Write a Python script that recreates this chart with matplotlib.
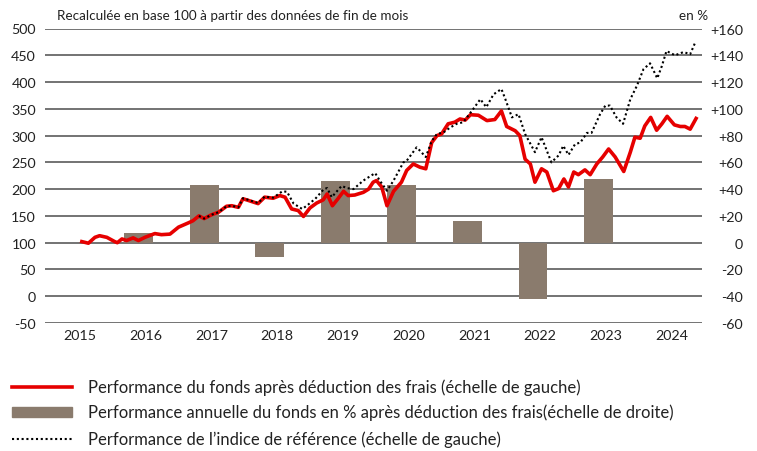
import matplotlib.pyplot as plt
from matplotlib.lines import Line2D
from matplotlib.patches import Rectangle
import numpy as np

plt.rcParams['font.family'] = ['Lato', 'DejaVu Sans']

# Fund performance (base 100), left scale
fund_x = [2015.03, 2015.13, 2015.23, 2015.30, 2015.41, 2015.53, 2015.57, 2015.64, 2015.71,
          2015.81, 2015.89, 2015.99, 2016.14, 2016.24, 2016.37, 2016.50, 2016.65, 2016.72,
          2016.81, 2016.89, 2017.00, 2017.11, 2017.23, 2017.31, 2017.41, 2017.48, 2017.56,
          2017.71, 2017.81, 2017.94, 2018.04, 2018.12, 2018.22, 2018.32, 2018.40, 2018.50,
          2018.60, 2018.70, 2018.76, 2018.84, 2018.93, 2019.01, 2019.08, 2019.18, 2019.31,
          2019.39, 2019.46, 2019.51, 2019.59, 2019.67, 2019.77, 2019.89, 2019.97, 2020.07,
          2020.17, 2020.26, 2020.35, 2020.43, 2020.50, 2020.60, 2020.70, 2020.78, 2020.86,
          2020.94, 2021.06, 2021.19, 2021.31, 2021.41, 2021.49, 2021.62, 2021.69, 2021.77,
          2021.85, 2021.92, 2022.02, 2022.10, 2022.20, 2022.28, 2022.36, 2022.43, 2022.51,
          2022.58, 2022.68, 2022.76, 2022.86, 2022.95, 2023.04, 2023.14, 2023.27, 2023.37,
          2023.44, 2023.52, 2023.59, 2023.68, 2023.77, 2023.85, 2023.93, 2024.04, 2024.13,
          2024.20, 2024.28, 2024.37]
fund_y = [102, 99, 110, 113, 110, 102, 100, 107, 104,
          109, 104, 110, 117, 115, 116, 129, 137, 141,
          150, 145, 152, 157, 168, 169, 166, 182, 179,
          173, 185, 183, 188, 185, 163, 160, 149, 165,
          174, 180, 191, 169, 183, 196, 188, 189, 194,
          200, 213, 216, 204, 169, 196, 213, 235, 247,
          241, 238, 287, 300, 303, 322, 325, 331, 329,
          339, 338, 328, 330, 346, 317, 309, 300, 256,
          247, 213, 238, 232, 197, 201, 219, 204, 232,
          227, 236, 227, 247, 260, 275, 260, 233, 269,
          297, 295, 318, 334, 310, 322, 336, 320, 317,
          317, 312, 332]

# Benchmark index (base 100), left scale
bench_x = [2016.81, 2016.89, 2017.00, 2017.11, 2017.23, 2017.31, 2017.41, 2017.48, 2017.56,
           2017.71, 2017.81, 2017.94, 2018.08, 2018.15, 2018.25, 2018.38, 2018.45, 2018.58,
           2018.71, 2018.76, 2018.83, 2018.98, 2019.06, 2019.16, 2019.31, 2019.49, 2019.56,
           2019.67, 2019.77, 2019.92, 2019.97, 2020.12, 2020.17, 2020.26, 2020.35, 2020.43,
           2020.53, 2020.63, 2020.73, 2020.83, 2020.96, 2021.09, 2021.18, 2021.29, 2021.41,
           2021.47, 2021.57, 2021.67, 2021.77, 2021.92, 2022.02, 2022.17, 2022.28, 2022.35,
           2022.43, 2022.53, 2022.61, 2022.71, 2022.78, 2022.91, 2022.99, 2023.06, 2023.16,
           2023.26, 2023.37, 2023.47, 2023.57, 2023.67, 2023.78, 2023.85, 2023.92, 2024.05,
           2024.18, 2024.28, 2024.35]
bench_y = [150, 145, 152, 157, 168, 169, 166, 183, 180,
           174, 186, 184, 196, 195, 173, 163, 169, 182,
           200, 202, 185, 206, 202, 200, 216, 230, 216,
           197, 216, 250, 253, 278, 272, 260, 290, 303,
           306, 315, 322, 325, 346, 368, 353, 377, 387,
           368, 334, 340, 303, 269, 297, 250, 263, 281,
           264, 284, 287, 305, 305, 340, 356, 356, 334,
           322, 368, 393, 424, 435, 407, 430, 458, 450,
           456, 452, 472]

# Annual performance in %, right scale
bar_years = [2016, 2017, 2018, 2019, 2020, 2021, 2022, 2023]
bar_vals = [7.4, 43, -11, 46, 43, 16.4, -42.2, 47.7]

year_ticks = list(range(2015, 2025))
left_ticks = list(range(-50, 501, 50))
right_ticks = list(range(-60, 161, 20))
right_labels = ['-60', '-40', '-20', '0', '+20', '+40', '+60', '+80', '+100', '+120', '+140', '+160']

red = '#E60000'
bar_col = '#8A7B6D'
grid_col = '#4D4D4D'

fig = plt.figure(figsize=(7.57, 4.52), dpi=100)
ax = fig.add_axes([45/757, 1-324/452, (702-45)/757, (324-29.5)/452])
ax2 = ax.twinx()
ax.set_zorder(ax2.get_zorder() + 1)
ax.patch.set_visible(False)

# bars on right scale
ax2.bar(np.array(bar_years) - 0.11, bar_vals, width=0.44, color=bar_col, zorder=3)
ax2.set_ylim(-60, 160)
ax2.set_yticks(right_ticks)
ax2.set_yticklabels(right_labels, ha='right')
ax2.tick_params(axis='y', length=0, pad=29.5, labelsize=10.3, colors='#222222')
for yv in right_ticks:
    ax2.axhline(yv, color=grid_col, lw=1.1, zorder=1)

# lines on left scale
ax.plot(fund_x, fund_y, color=red, lw=2.6, solid_joinstyle='round', zorder=3)
ax.plot(bench_x, bench_y, color='black', lw=1.5, linestyle=(0, (1, 1.3)), zorder=4)
ax.set_ylim(-50, 500)
ax.set_yticks(left_ticks)
ax.set_yticklabels([str(v) for v in left_ticks])
ax.set_xlim(2014.47, 2024.46)
ax.set_xticks(year_ticks)
ax.set_xticklabels([str(y) for y in year_ticks])
ax.tick_params(axis='y', length=0, pad=6.5, labelsize=10.3, colors='#222222')
ax.tick_params(axis='x', length=0, pad=4, labelsize=10.3, colors='#222222')
ax2.tick_params(axis='x', length=0)

for a in (ax, ax2):
    for s in a.spines.values():
        s.set_visible(False)

fig.text(57/757, 1-16/452, 'Recalculée en base 100 à partir des données de fin de mois',
         fontsize=9.75, color='#222222', va='center', ha='left')
fig.text(708/757, 1-16/452, 'en %', fontsize=9.75, color='#222222', va='center', ha='right')

# legend
rows = [388, 413, 440]
fig.add_artist(Line2D([12/757, 72/757], [1-rows[0]/452]*2, color=red, lw=2.6,
                      transform=fig.transFigure))
fig.add_artist(Rectangle((12/757, 1-(rows[1]+5)/452), 60/757, 10/452, color=bar_col,
                         transform=fig.transFigure))
fig.add_artist(Line2D([12/757, 72/757], [1-rows[2]/452]*2, color='black', lw=1.5,
                      linestyle=(0, (1, 1.3)), transform=fig.transFigure))
labels = ['Performance du fonds après déduction des frais (échelle de gauche)',
          'Performance annuelle du fonds en % après déduction des frais(échelle de droite)',
          'Performance de l\u2019indice de référence (échelle de gauche)']
for r, t in zip(rows, labels):
    fig.text(88/757, 1-r/452, t, fontsize=12, color='#222222', va='center', ha='left')

fig.savefig('out.png', dpi=100)
